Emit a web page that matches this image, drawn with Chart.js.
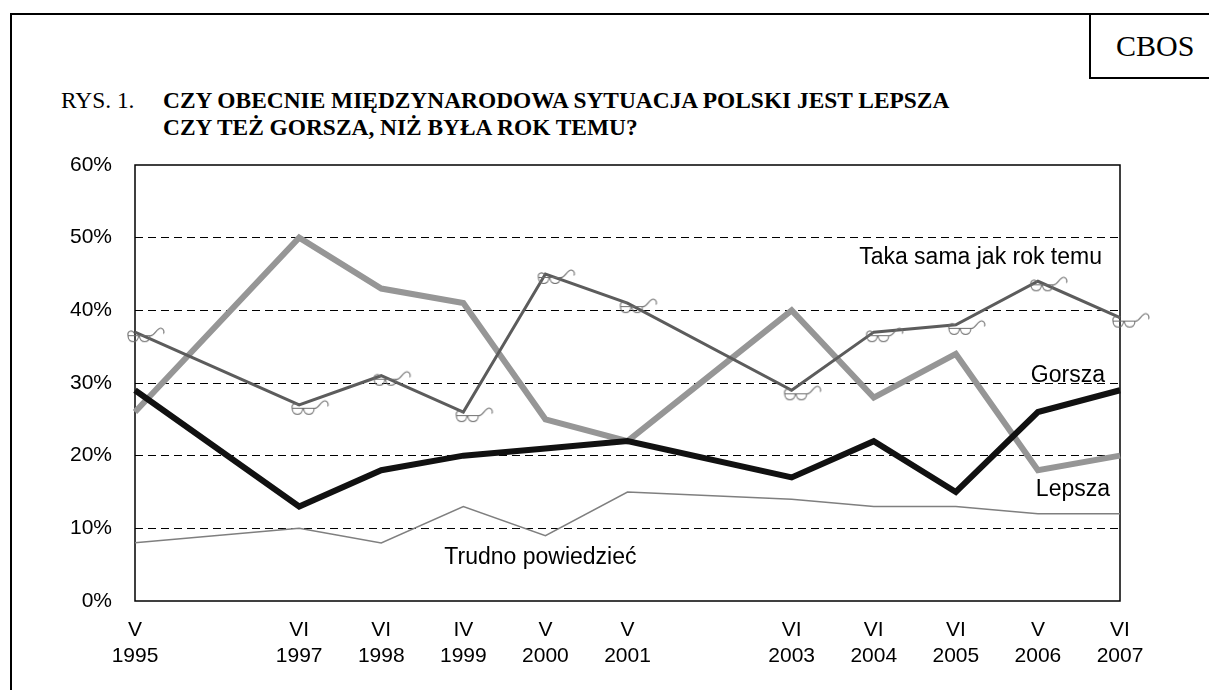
<!DOCTYPE html>
<html>
<head>
<meta charset="utf-8">
<script src="https://cdn.jsdelivr.net/npm/chart.js@4"></script>
<style>
    html, body { margin: 0; padding: 0; background: #fff; }
    body { width: 1209px; height: 690px; overflow: hidden; position: relative; }
    .frame { position: absolute; left: 10px; top: 13px; width: 1400px; height: 900px; border: 2px solid #000; }
    .cbos { position: absolute; left: 1089px; top: 13px; width: 200px; height: 62px; border: 2px solid #000;
            font: 30px 'Liberation Serif', 'Times New Roman', serif; line-height: 62px; }
    .cbos span { position: absolute; left: 25px; }
    .title { position: absolute; top: 87px; font: 23.4px 'Liberation Serif', 'Times New Roman', serif; line-height: 27px; color: #000; }
    #chartBox { position: absolute; left: 0; top: 0; width: 1209px; height: 690px; }
</style>
</head>
<body>
<div class="frame"></div>
<div class="cbos"><span>CBOS</span></div>
<div class="title" style="left:61px">RYS. 1.</div>
<div class="title" style="left:163px; font-weight:bold">CZY OBECNIE MIĘDZYNARODOWA SYTUACJA POLSKI JEST LEPSZA<br>CZY TEŻ GORSZA, NIŻ BYŁA ROK TEMU?</div>
<div id="chartBox"><canvas id="lineChart"></canvas></div>
<script>
// Survey waves (empty slots keep the gap years 1996 and 2002)
const waves = [
    ['V', '1995'], '', ['VI', '1997'], ['VI', '1998'], ['IV', '1999'], ['V', '2000'],
    ['V', '2001'], '', ['VI', '2003'], ['VI', '2004'], ['VI', '2005'], ['V', '2006'], ['VI', '2007']
];

// Values in percent
const lepsza   = [26, null, 50, 43, 41, 25, 22, null, 40, 28, 34, 18, 20];
const takaSama = [37, null, 27, 31, 26, 45, 41, null, 29, 37, 38, 44, 39];
const gorsza   = [29, null, 13, 18, 20, 21, 22, null, 17, 22, 15, 26, 29];
const trudno   = [8, null, 10, 8, 13, 9, 15, null, 14, 13, 13, 12, 12];

const yTicks = [0, 10, 20, 30, 40, 50, 60];

// Small "glasses" marker used on the "Taka sama" series
function makeGlasses() {
    const c = document.createElement('canvas');
    c.width = 70;
    c.height = 34;
    const g = c.getContext('2d');
    g.translate(35, 17);
    g.strokeStyle = '#6e6e6e';
    g.lineWidth = 1.1;
    g.beginPath();
    g.moveTo(-7, 3.5); g.lineTo(15, 3.5);
    g.moveTo(-7, 3.5); g.bezierCurveTo(-7, 11.5, 3.5, 11.5, 3.5, 3.5);
    g.moveTo(4.5, 3.5); g.bezierCurveTo(4.5, 11.5, 15, 11.5, 15, 3.5);
    g.moveTo(-7, 3.5); g.bezierCurveTo(-8, -1.5, -2, -2.5, -1, 1);
    g.moveTo(15, 3.5); g.bezierCurveTo(19, 4.5, 22, -4.5, 26, -4);
    g.bezierCurveTo(29, -3.5, 29.5, 0, 28.5, 1.5);
    g.stroke();
    return c;
}

// Plot border + series labels
const framePlugin = {
    id: 'framePlugin',
    beforeDatasetsDraw(chart) {
        const { ctx, chartArea: a } = chart;
        ctx.save();
        ctx.strokeStyle = '#000';
        ctx.lineWidth = 1.5;
        ctx.strokeRect(a.left, a.top, a.right - a.left, a.bottom - a.top);
        ctx.restore();
    },
    afterDraw(chart) {
        const { ctx, scales: { x, y } } = chart;
        const notes = [
            { text: 'Taka sama jak rok temu', i: 12, dx: -18, v: 47.3, align: 'right' },
            { text: 'Gorsza', i: 12, dx: -15, v: 31.0, align: 'right' },
            { text: 'Lepsza', i: 12, dx: -10, v: 15.3, align: 'right' },
            { text: 'Trudno powiedzieć', i: 5, dx: -5, v: 6.0, align: 'center' },
        ];
        ctx.save();
        ctx.fillStyle = '#000';
        ctx.font = "23px 'Liberation Sans', Arial, sans-serif";
        ctx.textBaseline = 'middle';
        notes.forEach(n => {
            ctx.textAlign = n.align;
            ctx.fillText(n.text, x.getPixelForValue(n.i) + n.dx, y.getPixelForValue(n.v));
        });
        ctx.restore();
    }
};

const tickFont = { family: "'Liberation Sans', Arial, sans-serif", size: 21 };

new Chart(document.getElementById('lineChart'), {
    type: 'line',
    data: {
        labels: waves,
        datasets: [
            {
                label: 'Taka sama jak rok temu',
                data: takaSama,
                borderColor: '#5c5c5c',
                borderWidth: 3,
                pointStyle: makeGlasses(),
                pointRadius: 4,
                order: 0,
            },
            {
                label: 'Gorsza',
                data: gorsza,
                borderColor: '#111111',
                borderWidth: 6,
                pointRadius: 0,
                order: 1,
            },
            {
                label: 'Lepsza',
                data: lepsza,
                borderColor: '#969696',
                borderWidth: 6,
                pointRadius: 0,
                order: 2,
            },
            {
                label: 'Trudno powiedzieć',
                data: trudno,
                borderColor: '#7f7f7f',
                borderWidth: 1.5,
                pointRadius: 0,
                order: 3,
            }
        ]
    },
    options: {
        responsive: true,
        maintainAspectRatio: false,
        animation: false,
        spanGaps: true,
        clip: false,
        events: [],
        layout: { padding: { left: 55, top: 165, right: 89, bottom: 0 } },
        elements: { line: { tension: 0, borderJoinStyle: 'miter', borderCapStyle: 'butt' } },
        plugins: {
            legend: { display: false },
            tooltip: { enabled: false }
        },
        scales: {
            x: {
                offset: false,
                grid: { display: false, drawTicks: false },
                border: { display: false },
                ticks: {
                    color: '#000',
                    font: tickFont,
                    padding: 17,
                    autoSkip: false,
                    maxRotation: 0
                },
                afterFit(scale) { scale.height = 89; }
            },
            y: {
                min: 0,
                max: 60,
                afterBuildTicks(scale) { scale.ticks = yTicks.map(v => ({ value: v })); },
                grid: {
                    drawTicks: false,
                    lineWidth: 1,
                    color: ctx => (ctx.tick && (ctx.tick.value === 0 || ctx.tick.value === 60)) ? 'rgba(0,0,0,0)' : '#000'
                },
                border: { display: false, dash: [8, 5] },
                ticks: {
                    color: '#000',
                    font: tickFont,
                    padding: 23,
                    callback: v => v + '%'
                },
                afterFit(scale) { scale.width = 80; }
            }
        }
    },
    plugins: [framePlugin]
});
</script>
</body>
</html>
